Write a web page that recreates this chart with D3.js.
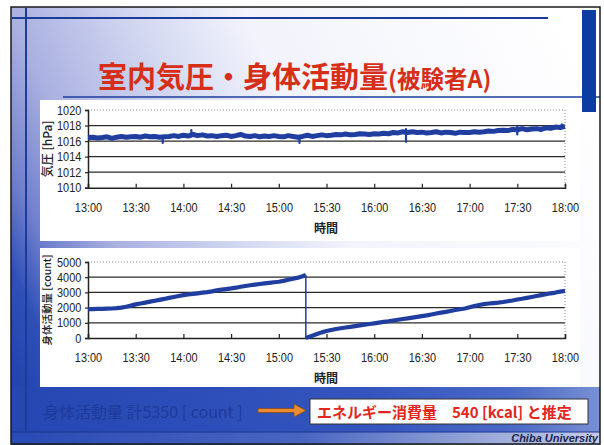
<!DOCTYPE html>
<html>
<head>
<meta charset="utf-8">
<script src="https://cdn.jsdelivr.net/npm/d3@7/dist/d3.min.js"></script>
<style>
  html, body { margin: 0; padding: 0; background: #ffffff; }
  svg { display: block; }
  .tick text { font-family: "Liberation Sans", Arial, sans-serif; font-size: 13px; fill: #222; }
  .cjk { font-family: "Noto Sans CJK JP", "Noto Sans CJK SC", sans-serif; }
</style>
</head>
<body>
<svg id="slide" width="604" height="445"></svg>
<script>
// Time axis: minutes after 13:00, tick every 30 minutes
const xTickMinutes = [0, 30, 60, 90, 120, 150, 180, 210, 240, 270, 300];
const xTickLabels = ["13:00", "13:30", "14:00", "14:30", "15:00", "15:30", "16:00", "16:30", "17:00", "17:30", "18:00"];

// Indoor pressure [hPa], sampled every 3 minutes from 13:00 to 18:00
const pressureMinutes = d3.range(0, 301, 3);
const pressureHpa = [
  1016.45, 1016.5, 1016.4, 1016.45, 1016.55, 1016.35, 1016.5, 1016.6, 1016.5, 1016.55,
  1016.6, 1016.5, 1016.65, 1016.55, 1016.6, 1016.5, 1016.55, 1016.6, 1016.7, 1016.6,
  1016.75, 1016.65, 1016.85, 1016.7, 1016.8, 1016.65, 1016.7, 1016.6, 1016.7, 1016.75,
  1016.6, 1016.7, 1016.85, 1016.65, 1016.6, 1016.7, 1016.55, 1016.65, 1016.6, 1016.7,
  1016.6, 1016.55, 1016.7, 1016.6, 1016.5, 1016.6, 1016.75, 1016.6, 1016.7, 1016.8,
  1016.7, 1016.75, 1016.85, 1016.8, 1016.9, 1016.8, 1016.85, 1016.95, 1016.9, 1016.85,
  1016.95, 1016.9, 1017.0, 1016.95, 1017.1, 1017.05, 1017.2, 1017.1, 1017.2, 1017.1,
  1017.15, 1017.05, 1017.1, 1017.2, 1017.05, 1017.15, 1017.1, 1017.0, 1017.15, 1017.1,
  1017.1, 1017.2, 1017.15, 1017.2, 1017.3, 1017.25, 1017.35, 1017.4, 1017.35, 1017.5,
  1017.45, 1017.6, 1017.45, 1017.55, 1017.6, 1017.5, 1017.7, 1017.65, 1017.8, 1017.75,
  1017.9
];
// Short pressure excursions: minute, lowest and highest reading
const spikeMinutes = [47, 65, 133, 200, 270, 298];
const spikeLow = [1015.75, 1016.6, 1015.75, 1015.9, 1016.85, 1017.7];
const spikeHigh = [1016.6, 1017.4, 1016.6, 1017.55, 1017.9, 1018.15];
const pressureTicks = [1010, 1012, 1014, 1016, 1018, 1020];

// Physical activity, cumulative count; the counter was reset at 15:17
const activityMinutesA = [0, 3, 6, 9, 12, 15, 18, 21, 24, 27, 30, 33, 36, 39, 42, 45, 48, 51, 54, 57,
  60, 63, 66, 69, 72, 75, 78, 81, 84, 87, 90, 93, 96, 99, 102, 105, 108, 111, 114, 117,
  120, 123, 126, 129, 132, 135, 137];
const activityCountA = [1890, 1900, 1910, 1920, 1930, 1940, 1960, 2000, 2060, 2130, 2210, 2270, 2330, 2390, 2450, 2510, 2570, 2640, 2700, 2760,
  2820, 2860, 2900, 2940, 2980, 3020, 3070, 3130, 3180, 3220, 3260, 3310, 3370, 3420, 3470, 3510, 3550, 3590, 3630, 3670,
  3700, 3760, 3830, 3900, 3970, 4060, 4150];
const activityMinutesB = [137, 138, 141, 144, 147, 150, 153, 156, 159, 162, 165, 168, 171, 174, 177, 180, 183, 186, 189, 192,
  195, 198, 201, 204, 207, 210, 213, 216, 219, 222, 225, 228, 231, 234, 237, 240, 243, 246, 249, 252,
  255, 258, 261, 264, 267, 270, 273, 276, 279, 282, 285, 288, 291, 294, 297, 300];
const activityCountB = [0, 40, 150, 260, 370, 460, 530, 590, 640, 690, 730, 780, 830, 880, 920, 965, 1010, 1060, 1100, 1150,
  1200, 1250, 1290, 1340, 1390, 1440, 1490, 1550, 1610, 1670, 1720, 1780, 1840, 1890, 1940, 2020, 2100, 2170, 2230, 2270,
  2300, 2330, 2370, 2420, 2470, 2530, 2580, 2640, 2700, 2760, 2820, 2880, 2940, 2990, 3050, 3100];
const activityTicks = [0, 1000, 2000, 3000, 4000, 5000];

const titleMain = "室内気圧・身体活動量";
const titleSub = "(被験者A)";
const totalText = "身体活動量 計5350 [ count ]";
const energyText = "エネルギー消費量\u3000540 [kcal] と推定";

const svg = d3.select("#slide");
const defs = svg.append("defs");

// ---------- slide background ----------
const bg = defs.append("linearGradient").attr("id", "bgGrad")
  .attr("gradientUnits", "userSpaceOnUse")
  .attr("x1", 11).attr("y1", 360).attr("x2", 600).attr("y2", 90);
[[0, "#2444b0"], [0.06, "#3050b8"], [0.12, "#6e7ecc"], [0.22, "#aab0e0"], [0.4, "#d4d9f1"], [0.55, "#f2f3fb"], [1, "#ffffff"]]
  .forEach(([o, c]) => bg.append("stop").attr("offset", o).attr("stop-color", c));
const band = defs.append("linearGradient").attr("id", "bandGrad");
[[0, "#2646b2"], [0.6, "#3355bd"], [0.85, "#4a68c6"], [1, "#7890d4"]]
  .forEach(([o, c]) => band.append("stop").attr("offset", o).attr("stop-color", c));
const strip = defs.append("linearGradient").attr("id", "stripGrad");
[[0, "#2a4ab4"], [0.5, "#4a66c2"], [0.8, "#98a8d8"], [1, "#c4cce6"]]
  .forEach(([o, c]) => strip.append("stop").attr("offset", o).attr("stop-color", c));

svg.append("rect").attr("x", 11).attr("y", 7).attr("width", 589).attr("height", 438).attr("fill", "url(#bgGrad)");
svg.append("rect").attr("x", 11).attr("y", 387).attr("width", 589).attr("height", 45).attr("fill", "url(#bandGrad)");
svg.append("rect").attr("x", 11).attr("y", 432).attr("width", 589).attr("height", 13).attr("fill", "url(#stripGrad)");
svg.append("line").attr("x1", 11).attr("x2", 600).attr("y1", 432).attr("y2", 432).attr("stroke", "#1c3490").attr("stroke-width", 1);

// decorative rules
const ruleColor = "#1c3c9c";
svg.append("line").attr("x1", 12).attr("x2", 548).attr("y1", 18).attr("y2", 18).attr("stroke", ruleColor).attr("stroke-width", 2);
svg.append("line").attr("x1", 26).attr("x2", 26).attr("y1", 8).attr("y2", 432).attr("stroke", ruleColor).attr("stroke-width", 2);
svg.append("line").attr("x1", 63).attr("x2", 600).attr("y1", 97).attr("y2", 97).attr("stroke", ruleColor).attr("stroke-width", 1.5);
svg.append("rect").attr("x", 582).attr("y", 10).attr("width", 14).attr("height", 102).attr("fill", "#0c3ca2");

// slide frame
svg.append("rect").attr("x", 11).attr("y", 7).attr("width", 589).attr("height", 437)
  .attr("fill", "none").attr("stroke", "#1a1a1a").attr("stroke-width", 1.5);

// ---------- title ----------
const title = svg.append("text").attr("class", "cjk").attr("x", 98).attr("y", 88)
  .attr("fill", "#d62e18").attr("font-weight", 700);
title.append("tspan").attr("font-size", 29).text(titleMain);
title.append("tspan").attr("font-size", 23.5).text(titleSub);

// ---------- chart panels ----------
svg.append("rect").attr("x", 40).attr("y", 100).attr("width", 540).attr("height", 141).attr("fill", "#ffffff");
svg.append("rect").attr("x", 40).attr("y", 248).attr("width", 540).attr("height", 139).attr("fill", "#ffffff");

const x = d3.scaleLinear().domain([0, 300]).range([88, 565]);
const lineColor = "#1f3ea0";

function drawPanel(cfg) {
  const y = d3.scaleLinear().domain(cfg.domain).range([cfg.bottom, cfg.top]);
  const g = svg.append("g");

  // horizontal grid lines
  g.selectAll("line.grid").data(cfg.ticks.slice(1, -1)).join("line")
    .attr("x1", x.range()[0]).attr("x2", x.range()[1])
    .attr("y1", d => y(d)).attr("y2", d => y(d))
    .attr("stroke", "#2a2a2a").attr("stroke-width", 1.3);
  // dotted frame on top and right
  g.append("path")
    .attr("d", `M${x.range()[0]},${cfg.top}H${x.range()[1]}V${cfg.bottom}`)
    .attr("fill", "none").attr("stroke", "#888").attr("stroke-width", 1).attr("stroke-dasharray", "1,2");

  // axes
  const yAxis = d3.axisLeft(y).tickValues(cfg.ticks).tickSize(3).tickPadding(4).tickFormat(d3.format("d"));
  const gy = g.append("g").attr("transform", `translate(${x.range()[0]},0)`).call(yAxis);
  const xAxis = d3.axisBottom(x).tickValues(xTickMinutes).tickSize(-4).tickPadding(15)
    .tickFormat((d, i) => xTickLabels[i]);
  const gx = g.append("g").attr("transform", `translate(0,${cfg.bottom})`).call(xAxis);
  [gx, gy].forEach(a => {
    a.select(".domain").attr("stroke", "#222").attr("stroke-width", 1.5);
    a.selectAll(".tick line").attr("stroke", "#222").attr("stroke-width", 1.2);
  });
  // narrow numerals
  gx.selectAll(".tick text").attr("transform", "scale(0.84,1)");
  gy.selectAll(".tick text").attr("transform", "scale(0.84,1)").attr("x", -8);

  // axis titles
  g.append("text").attr("class", "cjk")
    .attr("transform", `translate(${cfg.ylabelX},${(cfg.top + cfg.bottom) / 2}) rotate(-90)`)
    .attr("text-anchor", "middle").attr("dominant-baseline", "central")
    .attr("font-size", cfg.ylabelSize).attr("fill", "#222").attr("font-weight", 500).text(cfg.ylabel);
  g.append("text").attr("class", "cjk").attr("x", 326).attr("y", cfg.bottom + 45)
    .attr("text-anchor", "middle").attr("font-size", 12).attr("font-weight", 700).attr("fill", "#222").text("時間");

  return { g, y };
}

// upper panel: pressure
const p1 = drawPanel({ domain: [1010, 1020], ticks: pressureTicks, top: 110, bottom: 187.7,
  ylabel: "気圧 [hPa]", ylabelX: 46, ylabelSize: 12 });
p1.g.append("path")
  .datum(pressureMinutes.map((t, i) => [t, pressureHpa[i]]))
  .attr("d", d3.line().x(d => x(d[0])).y(d => p1.y(d[1])))
  .attr("fill", "none").attr("stroke", lineColor).attr("stroke-width", 5).attr("stroke-linejoin", "round");
p1.g.selectAll("line.spike").data(spikeMinutes).join("line")
  .attr("x1", d => x(d)).attr("x2", d => x(d))
  .attr("y1", (d, i) => p1.y(spikeLow[i])).attr("y2", (d, i) => p1.y(spikeHigh[i]))
  .attr("stroke", lineColor).attr("stroke-width", 2.2).attr("stroke-linecap", "round");

// lower panel: activity count
const p2 = drawPanel({ domain: [0, 5000], ticks: activityTicks, top: 262, bottom: 338,
  ylabel: "身体活動量 [count]", ylabelX: 46, ylabelSize: 10.5 });
const actLine = d3.line().x(d => x(d[0])).y(d => p2.y(d[1]));
// reset of the counter: thin vertical drop
p2.g.append("line")
  .attr("x1", x(activityMinutesA[activityMinutesA.length - 1])).attr("x2", x(activityMinutesB[0]))
  .attr("y1", p2.y(activityCountA[activityCountA.length - 1])).attr("y2", p2.y(activityCountB[0]))
  .attr("stroke", lineColor).attr("stroke-width", 1.5);
p2.g.append("path")
  .datum(activityMinutesA.map((t, i) => [t, activityCountA[i]]))
  .attr("d", actLine)
  .attr("fill", "none").attr("stroke", lineColor).attr("stroke-width", 4.2).attr("stroke-linejoin", "round");
p2.g.append("path")
  .datum(activityMinutesB.map((t, i) => [t, activityCountB[i]]))
  .attr("d", actLine)
  .attr("fill", "none").attr("stroke", lineColor).attr("stroke-width", 4.2).attr("stroke-linejoin", "round");

// ---------- bottom notes ----------
svg.append("text").attr("class", "cjk").attr("x", 43).attr("y", 418)
  .attr("font-size", 16).attr("fill", "#1e3a9c").text(totalText);

// orange arrow
svg.append("path")
  .attr("d", "M258,408.5 H294 V404 L306,410.5 L294,417 V412.5 H258 Z")
  .attr("fill", "#ec8a2e").attr("stroke", "#8a4a1a").attr("stroke-width", 0.8);

svg.append("rect").attr("x", 310).attr("y", 399).attr("width", 278).attr("height", 25)
  .attr("fill", "#ffffff").attr("stroke", "#333").attr("stroke-width", 1);
svg.append("text").attr("class", "cjk").attr("x", 317).attr("y", 417.5)
  .attr("font-size", 15).attr("font-weight", 700).attr("fill", "#e2261c").text(energyText);

svg.append("text").attr("x", 598).attr("y", 442).attr("text-anchor", "end")
  .attr("font-family", "Liberation Sans, Arial, sans-serif").attr("font-size", 11)
  .attr("font-weight", 700).attr("font-style", "italic").attr("fill", "#1a2450").text("Chiba University");
</script>
</body>
</html>
